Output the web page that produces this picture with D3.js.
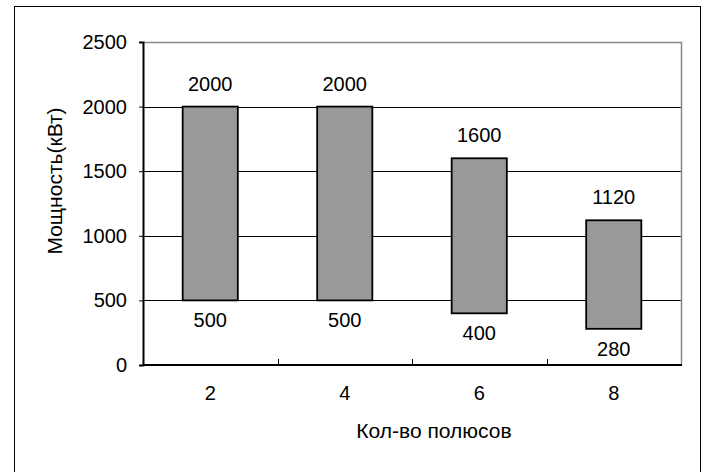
<!DOCTYPE html>
<html>
<head>
<meta charset="utf-8">
<script src="https://cdn.jsdelivr.net/npm/d3@7"></script>
<style>
  body { margin: 0; background: #fff; }
  text { font-family: Arial, "Liberation Sans", sans-serif; fill: #000; }
</style>
</head>
<body>
<svg id="chart" width="704" height="472"></svg>
<script>
// data
categories = ['2', '4', '6', '8'];
lowValues = [500, 500, 400, 280];
highValues = [2000, 2000, 1600, 1120];
yTicks = [0, 500, 1000, 1500, 2000, 2500];
yTitle = 'Мощность(кВт)';
xTitle = 'Кол-во полюсов';

var svg = d3.select('#chart');
var plotL = 143, plotR = 681, plotT = 42, plotB = 365;

// outer frame
svg.append('rect')
	.attr('x', 14.5).attr('y', 6.5)
	.attr('width', 686).attr('height', 480)
	.attr('fill', 'none').attr('stroke', '#000').attr('stroke-width', 1);

var x = d3.scaleBand().domain(categories).range([plotL, plotR]).paddingInner(0.59).paddingOuter(0.295);
var band = d3.scaleBand().domain(categories).range([plotL, plotR]);
var y = d3.scaleLinear().domain([0, 2500]).range([plotB, plotT]);

// gridlines
svg.append('g').selectAll('line')
	.data(yTicks.filter(function(t){ return t > 0 && t < 2500; }))
	.enter().append('line')
	.attr('x1', plotL).attr('x2', plotR)
	.attr('y1', function(d){ return Math.round(y(d)) + 0.5; })
	.attr('y2', function(d){ return Math.round(y(d)) + 0.5; })
	.attr('stroke', '#000').attr('stroke-width', 1);

// plot border top/right
svg.append('path')
	.attr('d', 'M' + plotL + ',' + (plotT + 0.5) + 'H' + (plotR + 0.5) + 'V' + plotB)
	.attr('fill', 'none').attr('stroke', '#888').attr('stroke-width', 1.5);

// bars
var rows = categories.map(function(c, i){ return {cat: c, lo: lowValues[i], hi: highValues[i]}; });
svg.append('g').selectAll('rect')
	.data(rows).enter().append('rect')
	.attr('x', function(d){ return x(d.cat); })
	.attr('width', x.bandwidth())
	.attr('y', function(d){ return y(d.hi); })
	.attr('height', function(d){ return y(d.lo) - y(d.hi); })
	.attr('fill', '#999999').attr('stroke', '#000').attr('stroke-width', 1.8);

// value labels
var fs = 20;
svg.append('g').selectAll('text')
	.data(rows).enter().append('text')
	.attr('x', function(d){ return x(d.cat) + x.bandwidth() / 2; })
	.attr('y', function(d){ return y(d.hi) - 23; })
	.attr('text-anchor', 'middle').attr('dominant-baseline', 'central')
	.attr('font-size', fs)
	.text(function(d){ return d.hi; });
svg.append('g').selectAll('text')
	.data(rows).enter().append('text')
	.attr('x', function(d){ return x(d.cat) + x.bandwidth() / 2; })
	.attr('y', function(d){ return y(d.lo) + 20; })
	.attr('text-anchor', 'middle').attr('dominant-baseline', 'central')
	.attr('font-size', fs)
	.text(function(d){ return d.lo; });

// y axis
var yAxis = d3.axisLeft(y).tickValues(yTicks).tickFormat(d3.format('d')).tickSize(4).tickPadding(12);
var gy = svg.append('g').attr('transform', 'translate(' + plotL + ',0)').call(yAxis);
gy.select('.domain').attr('stroke', '#000').attr('stroke-width', 2);
gy.selectAll('.tick line').attr('stroke', '#000');
gy.selectAll('.tick text').attr('font-size', fs).attr('font-family', 'Arial, "Liberation Sans", sans-serif').attr('fill', '#000');

// x axis (ticks between categories, pointing inward)
var gx = svg.append('g');
gx.append('line')
	.attr('x1', plotL - 1).attr('x2', plotR + 1)
	.attr('y1', plotB).attr('y2', plotB)
	.attr('stroke', '#000').attr('stroke-width', 2);
gx.selectAll('line.tk')
	.data(categories.slice(1)).enter().append('line')
	.attr('class', 'tk')
	.attr('x1', function(d){ return Math.round(band(d)) + 0.5; })
	.attr('x2', function(d){ return Math.round(band(d)) + 0.5; })
	.attr('y1', plotB).attr('y2', plotB - 6)
	.attr('stroke', '#000');
gx.selectAll('text')
	.data(categories).enter().append('text')
	.attr('x', function(d){ return band(d) + band.bandwidth() / 2; })
	.attr('y', 400)
	.attr('text-anchor', 'middle')
	.attr('font-size', fs)
	.text(function(d){ return d; });

// titles
svg.append('text')
	.attr('x', 434).attr('y', 438)
	.attr('text-anchor', 'middle').attr('font-size', 21)
	.text(xTitle);
svg.append('text')
	.attr('transform', 'translate(62,181) rotate(-90)')
	.attr('text-anchor', 'middle').attr('font-size', 21)
	.text(yTitle);
</script>
</body>
</html>
